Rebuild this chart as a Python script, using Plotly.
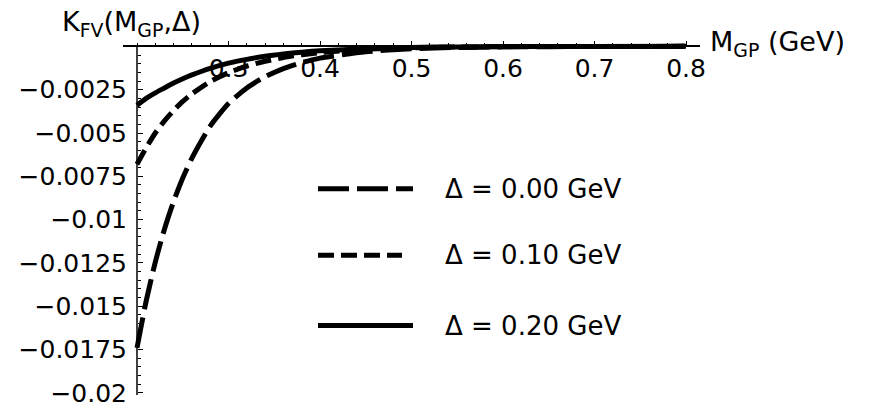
import plotly.graph_objects as go

# Gluon-pair mass grid (GeV) and finite-volume correction K_FV for three splittings
mass = [0.20, 0.21, 0.22, 0.23, 0.24, 0.25, 0.26, 0.28, 0.30, 0.32, 0.34,
        0.36, 0.38, 0.40, 0.45, 0.50, 0.55, 0.60, 0.70, 0.80]
k_delta_000 = [-0.01740, -0.01470, -0.01245, -0.01055, -0.00895, -0.00760,
               -0.00645, -0.00460, -0.00330, -0.00240, -0.00175, -0.00128,
               -0.00094, -0.00068, -0.00031, -0.00014, -0.000065, -0.00003,
               -0.000006, -0.000001]
k_delta_010 = [-0.00680, -0.00585, -0.00500, -0.00430, -0.00370, -0.00318,
               -0.00274, -0.00203, -0.00152, -0.00114, -0.00086, -0.00064,
               -0.00048, -0.00036, -0.00017, -0.00008, -0.00004, -0.00002,
               -0.000004, -0.000001]
k_delta_020 = [-0.00340, -0.00300, -0.00268, -0.00240, -0.00212, -0.00187,
               -0.00165, -0.00127, -0.00097, -0.00075, -0.00057, -0.00044,
               -0.00034, -0.00026, -0.00013, -0.00006, -0.00003, -0.000015,
               -0.000004, -0.000001]

series_labels = ["Δ = 0.00 GeV", "Δ = 0.10 GeV", "Δ = 0.20 GeV"]
series_dash = ["31px,8px", "16px,7px", "solid"]

x_tick_vals = [0.3, 0.4, 0.5, 0.6, 0.7, 0.8]
x_tick_text = ["0.3", "0.4", "0.5", "0.6", "0.7", "0.8"]
y_tick_vals = [-0.0025, -0.005, -0.0075, -0.01, -0.0125, -0.015, -0.0175, -0.02]
y_tick_text = ["−0.0025", "−0.005", "−0.0075", "−0.01", "−0.0125", "−0.015",
               "−0.0175", "−0.02"]

FONT = "DejaVu Sans"
W, H = 870, 420
ML, MR, MT, MB = 123, 170, 40, 17
PW, PH = W - ML - MR, H - MT - MB


def px_x(p):
    return (p - ML) / PW


def px_y(p):
    return (H - MB - p) / PH


fig = go.Figure()
for yvals, dash in zip([k_delta_000, k_delta_010, k_delta_020], series_dash):
    fig.add_trace(go.Scatter(
        x=mass, y=yvals, mode="lines",
        line=dict(color="black", width=5, dash=dash, shape="spline", smoothing=0.6),
        showlegend=False, hoverinfo="skip"))

x_lo, x_hi = 0.2 - 14 / 915, 0.8 + 14 / 915
y_top = 6.5 / 17720
y_bot = -(H - MB - 46.5) / 17720

fig.update_layout(
    width=W, height=H,
    margin=dict(l=ML, r=MR, t=MT, b=MB),
    paper_bgcolor="white", plot_bgcolor="white",
    font=dict(family=FONT, size=25, color="black"),
    xaxis=dict(
        range=[x_lo, x_hi], anchor="free", position=(H - MB - 46.5) / PH,
        side="bottom", showline=True, linecolor="black", linewidth=1.5,
        showgrid=False, zeroline=False, layer="below traces",
        tickmode="array", tickvals=x_tick_vals, ticktext=x_tick_text,
        ticks="inside", ticklen=5, tickwidth=1, tickcolor="black",
        minor=dict(ticks="inside", ticklen=3, tickwidth=1, tickcolor="black",
                   tick0=0.2, dtick=0.02, showgrid=False),
        tickfont=dict(family=FONT, size=25),
    ),
    yaxis=dict(
        range=[y_bot, y_top], anchor="free", position=14 / PW,
        showline=False, showgrid=False, zeroline=False, layer="below traces",
        tickmode="array", tickvals=y_tick_vals, ticktext=y_tick_text,
        ticks="inside", ticklen=5, tickwidth=1, tickcolor="black",
        minor=dict(ticks="inside", ticklen=3, tickwidth=1, tickcolor="black",
                   tick0=0, dtick=0.0005, showgrid=False),
        tickfont=dict(family=FONT, size=25),
        ticklabelstandoff=10,
    ),
)

# vertical axis line from the origin line down to the bottom of the frame
fig.add_shape(type="line", xref="x", yref="y", x0=0.2, x1=0.2, y0=0, y1=y_bot,
              line=dict(color="black", width=1.5), layer="below")

# axis titles
fig.add_annotation(text="K<sub>FV</sub>(M<sub>GP</sub>,Δ)", xref="paper", yref="paper",
                   x=px_x(60), y=px_y(3), xanchor="left", yanchor="top",
                   showarrow=False, font=dict(family=FONT, size=27))
fig.add_annotation(text="M<sub>GP</sub> (GeV)", xref="paper", yref="paper",
                   x=px_x(708), y=px_y(44), xanchor="left", yanchor="middle",
                   showarrow=False, font=dict(family=FONT, size=27))

# key: line samples and labels
rows = [192, 260, 332]
sample_end = [413, 402, 413]
for label, dash, ry, x_end in zip(series_labels, series_dash, rows, sample_end):
    fig.add_shape(type="line", xref="paper", yref="paper",
                  x0=px_x(318), x1=px_x(x_end), y0=px_y(ry), y1=px_y(ry),
                  line=dict(color="black", width=5, dash=dash))
    fig.add_annotation(text=label, xref="paper", yref="paper",
                       x=px_x(443), y=px_y(ry), xanchor="left", yanchor="middle",
                       showarrow=False, font=dict(family=FONT, size=26))

fig.write_html("out.html")
